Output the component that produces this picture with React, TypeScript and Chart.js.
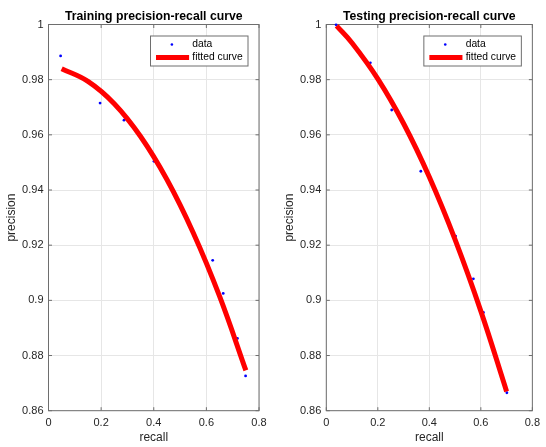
import { useEffect, useRef } from 'react';
import { Chart, registerables } from 'chart.js';

Chart.register(...registerables);

const FONT = '"Liberation Sans", Arial, Helvetica, sans-serif';

const X_TICKS = [0, 0.2, 0.4, 0.6, 0.8];
const X_TICK_LABELS = ['0', '0.2', '0.4', '0.6', '0.8'];
const Y_TICKS = [0.86, 0.88, 0.9, 0.92, 0.94, 0.96, 0.98, 1];
const Y_TICK_LABELS = ['0.86', '0.88', '0.9', '0.92', '0.94', '0.96', '0.98', '1'];

const TRAIN_RECALL = [0.046, 0.196, 0.287, 0.401, 0.624, 0.664, 0.718, 0.749];
const TRAIN_PRECISION = [0.9886, 0.9715, 0.9653, 0.9504, 0.9145, 0.9025, 0.8862, 0.8726];
const TRAIN_FIT_RECALL = [0.05, 0.15, 0.25, 0.35, 0.45, 0.55, 0.65, 0.75];
const TRAIN_FIT_PRECISION = [0.984, 0.9794, 0.9713, 0.9594, 0.9438, 0.9245, 0.9015, 0.8746];

const TEST_RECALL = [0.038, 0.171, 0.254, 0.367, 0.502, 0.571, 0.61, 0.701];
const TEST_PRECISION = [0.9999, 0.9861, 0.969, 0.9468, 0.9233, 0.9078, 0.8956, 0.8665];
const TEST_FIT_RECALL = [0.04, 0.1, 0.2, 0.3, 0.4, 0.5, 0.6, 0.7];
const TEST_FIT_PRECISION = [0.9995, 0.9933, 0.9803, 0.9641, 0.9447, 0.922, 0.8961, 0.867];

const TITLES = ['Training precision-recall curve', 'Testing precision-recall curve'];
const SERIES_LABELS = ['data', 'fitted curve'];
const X_LABEL = 'recall';
const Y_LABEL = 'precision';

const BOX_COLOR = '#6e6e6e';
const GRID_COLOR = '#e6e6e6';
const TEXT_COLOR = '#262626';
const TICK_LEN = 3.5;

const CANVAS_W = 273;
const CANVAS_H = 447;
const AREA_TOP = 24.5;
const AREA_BOTTOM = 410.7;

const decorPlugin = {
  id: 'decor',
  beforeDatasetsDraw(chart: any) {
    const { ctx, chartArea: a } = chart;
    const xs = chart.scales.x;
    const ys = chart.scales.y;
    ctx.save();
    ctx.strokeStyle = BOX_COLOR;
    ctx.lineWidth = 1;
    ctx.beginPath();
    X_TICKS.forEach((v) => {
      const px = xs.getPixelForValue(v);
      ctx.moveTo(px, a.bottom);
      ctx.lineTo(px, a.bottom - TICK_LEN);
      ctx.moveTo(px, a.top);
      ctx.lineTo(px, a.top + TICK_LEN);
    });
    Y_TICKS.forEach((v) => {
      const py = ys.getPixelForValue(v);
      ctx.moveTo(a.left, py);
      ctx.lineTo(a.left + TICK_LEN, py);
      ctx.moveTo(a.right, py);
      ctx.lineTo(a.right - TICK_LEN, py);
    });
    ctx.stroke();
    ctx.strokeRect(a.left, a.top, a.right - a.left, a.bottom - a.top);
    ctx.restore();
  },
  afterDraw(chart: any, _args: any, opts: any) {
    const { ctx, chartArea: a } = chart;
    ctx.save();
    ctx.fillStyle = '#000';
    ctx.font = `bold 12.25px ${FONT}`;
    ctx.textAlign = 'center';
    ctx.textBaseline = 'alphabetic';
    ctx.fillText(opts.title, (a.left + a.right) / 2, 20);

    const w = 97.5;
    const h = 30;
    const right = a.right - 11;
    const left = right - w;
    const top = a.top + 11.5;
    ctx.fillStyle = '#fff';
    ctx.fillRect(left, top, w, h);
    ctx.strokeStyle = BOX_COLOR;
    ctx.lineWidth = 1;
    ctx.strokeRect(left, top, w, h);

    const row1 = top + 8.5;
    const row2 = top + 21.5;
    ctx.fillStyle = '#0000ff';
    ctx.beginPath();
    ctx.arc(left + 21.4, row1, 1.3, 0, Math.PI * 2);
    ctx.fill();

    ctx.strokeStyle = '#ff0000';
    ctx.lineWidth = 5;
    ctx.beginPath();
    ctx.moveTo(left + 5.5, row2);
    ctx.lineTo(left + 38.6, row2);
    ctx.stroke();

    ctx.fillStyle = '#000';
    ctx.font = `10.3px ${FONT}`;
    ctx.textAlign = 'left';
    ctx.textBaseline = 'middle';
    const labels = chart.data.datasets.map((d: any) => d.label);
    ctx.fillText(labels[1], left + 41.8, row1);
    ctx.fillText(labels[0], left + 41.8, row2);
    ctx.restore();
  },
};

type PanelProps = {
  title: string;
  recall: number[];
  precision: number[];
  fitRecall: number[];
  fitPrecision: number[];
  areaLeft: number;
  areaRight: number;
  yTitlePad: number;
  left: number;
};

function Panel(p: PanelProps) {
  const ref = useRef<HTMLCanvasElement | null>(null);
  useEffect(() => {
    if (!ref.current) return;
    const chart = new Chart(ref.current, {
      type: 'scatter',
      data: {
        datasets: [
          {
            label: SERIES_LABELS[1],
            type: 'line',
            data: p.fitRecall.map((x, i) => ({ x, y: p.fitPrecision[i] })),
            borderColor: '#ff0000',
            backgroundColor: '#ff0000',
            borderWidth: 5,
            pointRadius: 0,
            fill: false,
            tension: 0.4,
            borderCapStyle: 'butt',
            clip: false,
            order: 0,
          } as any,
          {
            label: SERIES_LABELS[0],
            data: p.recall.map((x, i) => ({ x, y: p.precision[i] })),
            backgroundColor: '#0000ff',
            borderColor: '#0000ff',
            pointRadius: 1.4,
            pointBorderWidth: 0,
            showLine: false,
            clip: false,
            order: 1,
          } as any,
        ],
      },
      options: {
        animation: false,
        responsive: false,
        maintainAspectRatio: false,
        layout: { padding: { top: AREA_TOP, right: CANVAS_W - p.areaRight, left: 0, bottom: 0 } },
        plugins: {
          legend: { display: false },
          tooltip: { enabled: false },
          decor: { title: p.title },
        } as any,
        scales: {
          x: {
            type: 'linear',
            min: 0,
            max: 0.8,
            afterBuildTicks: (s: any) => {
              s.ticks = X_TICKS.map((value) => ({ value }));
            },
            afterFit: (s: any) => {
              s.height = CANVAS_H - AREA_BOTTOM;
            },
            ticks: {
              autoSkip: false,
              maxRotation: 0,
              padding: 6,
              color: TEXT_COLOR,
              font: { family: FONT, size: 11 },
              callback: (_v: any, i: number) => X_TICK_LABELS[i],
            },
            grid: { color: GRID_COLOR, lineWidth: 1, drawTicks: false },
            border: { display: false },
            title: {
              display: true,
              text: X_LABEL,
              color: TEXT_COLOR,
              font: { family: FONT, size: 12 },
              padding: { top: 0, bottom: 2.3 },
            },
          },
          y: {
            type: 'linear',
            min: 0.86,
            max: 1,
            afterBuildTicks: (s: any) => {
              s.ticks = Y_TICKS.map((value) => ({ value }));
            },
            afterFit: (s: any) => {
              s.width = p.areaLeft;
            },
            ticks: {
              autoSkip: false,
              padding: 5,
              color: TEXT_COLOR,
              font: { family: FONT, size: 11 },
              callback: (_v: any, i: number) => Y_TICK_LABELS[i],
            },
            grid: { color: GRID_COLOR, lineWidth: 1, drawTicks: false },
            border: { display: false },
            title: {
              display: true,
              text: Y_LABEL,
              color: TEXT_COLOR,
              font: { family: FONT, size: 12 },
              padding: { top: p.yTitlePad, bottom: 0 },
            },
          },
        },
      } as any,
      plugins: [decorPlugin as any],
    });
    return () => chart.destroy();
  }, []);
  return (
    <canvas
      ref={ref}
      width={CANVAS_W}
      height={CANVAS_H}
      style={{ position: 'absolute', left: p.left, top: 0, width: CANVAS_W, height: CANVAS_H }}
    />
  );
}

export default function App() {
  return (
    <div style={{ position: 'fixed', left: 0, top: 0, width: 546, height: 447, background: '#fff' }}>
      <Panel
        title={TITLES[0]}
        recall={TRAIN_RECALL}
        precision={TRAIN_PRECISION}
        fitRecall={TRAIN_FIT_RECALL}
        fitPrecision={TRAIN_FIT_PRECISION}
        areaLeft={48.5}
        areaRight={259}
        yTitlePad={4.6}
        left={0}
      />
      <Panel
        title={TITLES[1]}
        recall={TEST_RECALL}
        precision={TEST_PRECISION}
        fitRecall={TEST_FIT_RECALL}
        fitPrecision={TEST_FIT_PRECISION}
        areaLeft={53.3}
        areaRight={264.3}
        yTitlePad={9.4}
        left={273}
      />
    </div>
  );
}
